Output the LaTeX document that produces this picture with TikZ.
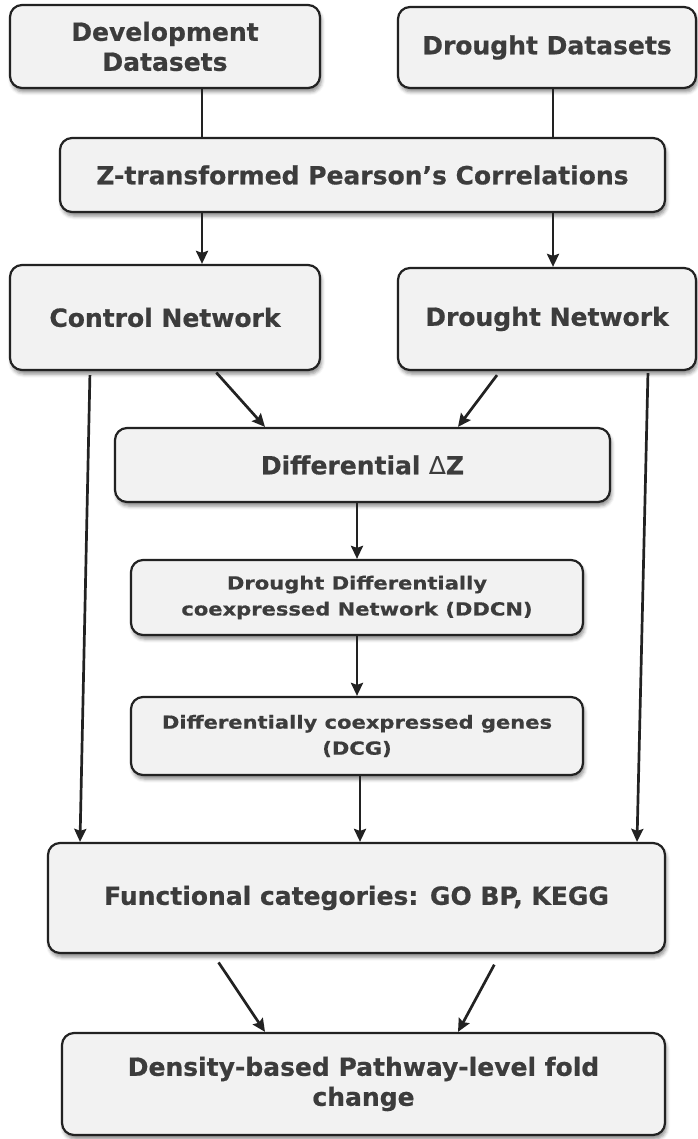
\documentclass[tikz,border=0pt]{standalone}
\usepackage{fontspec}
\usetikzlibrary{arrows.meta,shadows.blur}
\newfontfamily\flowfont[FakeBold=0.6]{DejaVu Sans Bold}
\newfontfamily\flowwide[FakeStretch=1.17, FakeBold=0.6]{DejaVu Sans Bold}
\newfontfamily\flowthin{DejaVu Sans}
\definecolor{flowFill}{HTML}{F2F2F2}
\definecolor{flowLine}{HTML}{222222}
\definecolor{flowText}{HTML}{3C3C3C}

\begin{document}
\begin{tikzpicture}[
        x=1pt, y=-1pt,
        box/.style={draw=flowLine, line width=2.2pt, rounded corners=12pt, fill=flowFill, text=flowText, align=center, inner sep=0pt, font=\flowfont\fontsize{25}{30}\selectfont, blur shadow={shadow xshift=1.5pt, shadow yshift=-4pt, shadow blur radius=3.5pt, shadow opacity=45}},
        smallbox/.style={box, font=\flowwide\fontsize{18}{26}\selectfont},
        link/.style={draw=flowLine, line width=2.7pt},
        arrow/.style={link, -{Stealth[length=13pt, width=12pt, inset=2pt]}}
    ]
        \useasboundingbox (0,0) rectangle (697,1139);

        \node[box, minimum width=310pt, minimum height=83pt] (dev) at (165,46.5) {Development\\Datasets};
        \node[box, minimum width=298pt, minimum height=81pt] (dsets) at (547,47.5) {Drought Datasets};
        \node[box, minimum width=605pt, minimum height=74pt] (zcorr) at (362.5,175) {Z-transformed Pearson’s Correlations};
        \node[box, minimum width=310pt, minimum height=105pt] (ctrl) at (165,317.5) {Control Network};
        \node[box, minimum width=298pt, minimum height=102pt] (dnet) at (547,319) {Drought Network};
        \node[box, minimum width=495pt, minimum height=74pt] (dz) at (362.5,465) {Differential {\flowthin ∆}Z};
        \node[smallbox, minimum width=452pt, minimum height=75pt] (ddcn) at (357,597.5) {Drought Differentially\\coexpressed Network (DDCN)};
        \node[smallbox, minimum width=452pt, minimum height=78pt] (dcg) at (357,736) {Differentially coexpressed genes\\(DCG)};
        \node[box, minimum width=617pt, minimum height=110pt] (func) at (356.5,898) {Functional categories: GO BP, KEGG};
        \node[box, minimum width=603pt, minimum height=102pt] (dens) at (363.5,1084) {Density-based Pathway-level fold\\change};

        \draw[link] ([xshift=37pt]dev.south) -- ([xshift=37pt]dev.south |- zcorr.north);
        \draw[link] ([xshift=6pt]dsets.south) -- ([xshift=6pt]dsets.south |- zcorr.north);
        \draw[arrow] ([xshift=37pt]ctrl.north |- zcorr.south) -- ([xshift=37pt]ctrl.north);
        \draw[arrow] ([xshift=6pt]dnet.north |- zcorr.south) -- ([xshift=6pt]dnet.north);
        \draw[arrow, shorten <=4pt] ([xshift=-75pt]ctrl.south) -- ([xshift=-276.5pt]func.north);
        \draw[arrow, shorten <=2pt] ([xshift=101pt]dnet.south) -- ([xshift=280.5pt]func.north);
        \draw[arrow, shorten <=2pt] ([xshift=50pt]ctrl.south) -- ([xshift=-97.5pt]dz.north);
        \draw[arrow, shorten <=5pt] ([xshift=-47pt]dnet.south) -- ([xshift=95.5pt]dz.north);
        \draw[arrow] (dz.south -| ddcn.north) -- (ddcn.north);
        \draw[arrow] (ddcn) -- (dcg);
        \draw[arrow] ([xshift=3pt]dcg.south) -- ([xshift=3pt]dcg.south |- func.north);
        \draw[arrow, shorten <=10pt] ([xshift=-143.5pt]func.south) -- ([xshift=-98.5pt]dens.north);
        \draw[arrow, shorten <=12pt] ([xshift=143.5pt]func.south) -- ([xshift=94.5pt]dens.north);
    \end{tikzpicture}
\end{document}
